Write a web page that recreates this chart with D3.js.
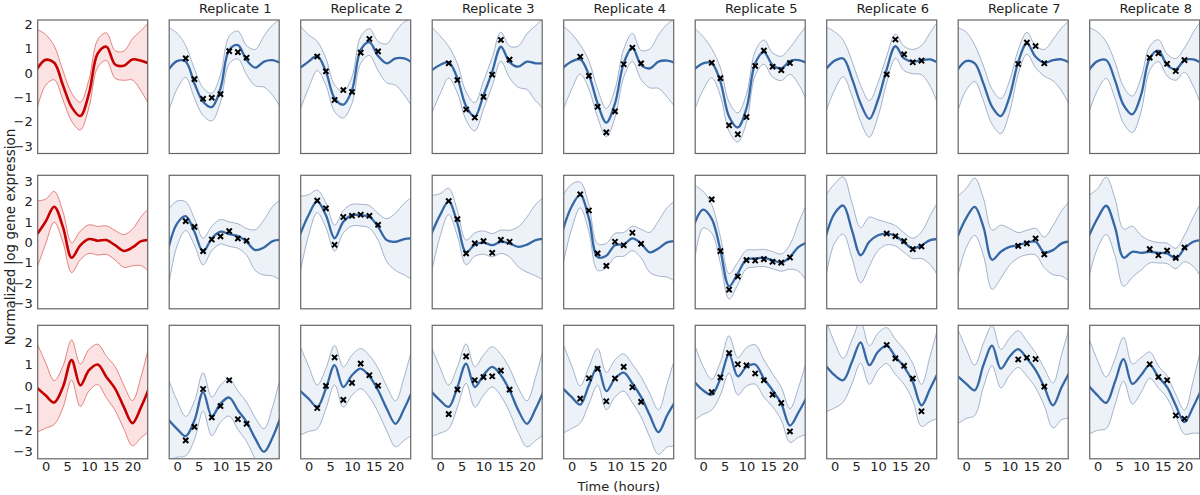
<!DOCTYPE html>
<html><head><meta charset="utf-8">
<script src="https://cdn.jsdelivr.net/npm/d3@7"></script>
<style>body{margin:0;background:#fff}svg{display:block}text{font-family:"DejaVu Sans",sans-serif}</style>
</head><body>
<svg id="c" width="1200" height="495"></svg>
<script>
// grid times for curves
const gridT = [-2,0,2,4,6,8,10,12,14,16,18,20,22,24];
const panelTitles = ["", "Replicate 1","Replicate 2","Replicate 3","Replicate 4","Replicate 5","Replicate 6","Replicate 7","Replicate 8"];
const xTicks = [0,5,10,15,20];
const yTicksRow = [[2,1,0,-1,-2,-3],[3,2,1,0,-1,-2,-3],[2,1,0,-1,-2,-3]];
const yDomains = [[-3.31,2.18],[-3.25,3.28],[-3.32,2.78]];
const obsTimes = [
  [2,4,6,8,10,12,14,16],[2,4,6,8,10,12,14,16],[2,4,6,8,10,12,14,16],[2,4,6,8,10,12,14,16],
  [2,4,6,8,10,12,14,16,18,20],[12,14,16,18,20],[12,14,16,18],[12,14,16,18,20]];

// Row 0: index 0 = gene-level (red), 1..8 = replicates
const row0Mean = [
  [0.15,0.54,0.42,-0.5,-1.4,-1.77,-0.84,0.8,1.08,0.35,0.3,0.56,0.5,0.38],
  [0.13,0.49,0.47,-0.43,-1.18,-1.4,-0.63,0.95,1.15,0.53,0.22,0.47,0.53,0.38],
  [0.2,0.47,0.70,0.05,-1.04,-1.3,-0.7,0.95,1.27,0.70,0.40,0.6,0.6,0.4],
  [0.1,0.33,0.44,-0.22,-1.36,-1.8,-0.91,0.05,1.08,0.45,0.26,0.47,0.4,0.4],
  [0.2,0.47,0.56,-0.08,-1.25,-2.04,-1.25,0.40,1.05,0.33,0.19,0.47,0.51,0.4],
  [0.15,0.40,0.40,-0.36,-1.8,-2.24,-1.45,0.40,0.86,0.33,0.19,0.49,0.53,0.4],
  [0.15,0.5,0.6,-0.22,-1.25,-1.89,-1.1,0.15,1.1,0.6,0.47,0.53,0.56,0.4],
  [0.12,0.49,0.40,-0.43,-1.39,-1.77,-0.98,0.45,1.22,0.67,0.42,0.53,0.56,0.4],
  [0.12,0.49,0.53,-0.29,-1.32,-1.7,-0.91,0.60,0.92,0.33,0.15,0.53,0.56,0.4]];
const row0Band = [
  [1.65,1.05,0.7,0.6,0.58,0.57,0.57,0.57,0.57,0.57,0.6,0.85,1.25,1.75],
  [1.75,1.15,0.65,0.6,0.57,0.57,0.57,0.57,0.57,0.6,0.75,1.05,1.45,1.85],
  [1.75,1.1,0.6,0.55,0.55,0.55,0.55,0.55,0.55,0.6,0.8,1.1,1.5,1.85],
  [1.8,1.2,0.65,0.6,0.58,0.58,0.58,0.58,0.6,0.65,0.85,1.15,1.55,1.9],
  [1.75,1.15,0.6,0.58,0.58,0.58,0.58,0.58,0.58,0.6,0.8,1.1,1.5,1.85],
  [1.7,1.1,0.6,0.58,0.6,0.6,0.58,0.5,0.5,0.5,0.5,0.55,1.0,1.6],
  [1.75,1.2,0.75,0.72,0.75,0.75,0.7,0.55,0.5,0.5,0.5,0.6,1.1,1.8],
  [1.75,1.2,0.75,0.72,0.72,0.72,0.65,0.5,0.45,0.45,0.55,0.85,1.3,1.8],
  [1.75,1.2,0.75,0.75,0.75,0.75,0.7,0.5,0.45,0.45,0.45,0.5,1.1,1.8]];
const row0Obs = [
  [0.60,-0.25,-1.06,-1.02,-0.87,0.90,0.86,0.63],
  [0.68,0.07,-1.11,-0.70,-0.78,0.84,1.40,0.89],
  [0.40,-0.29,-1.50,-1.83,-0.98,-0.07,1.36,0.55],
  [0.67,-0.12,-1.39,-2.44,-1.58,0.36,1.04,0.40],
  [0.42,-0.21,-2.15,-2.52,-1.81,0.29,0.92,0.26,0.12,0.41],
  [-0.06,1.38,0.77,0.44,0.51],
  [0.37,1.25,1.11,0.40],
  [0.63,0.81,0.38,0.08,0.53]];

// Row 1
const row1Mean = [
  [0.38,1.01,1.74,0.76,-0.75,-0.15,0.16,0.08,0.11,-0.14,-0.42,-0.25,0.06,0.12],
  [-0.3,0.92,1.28,0.52,-0.45,0.19,0.52,0.40,0.31,0.03,-0.38,-0.25,0.06,0.12],
  [0.35,1.33,2.0,1.33,0.2,1.01,1.33,1.33,1.25,0.76,0.11,0.03,0.16,0.2],
  [0.4,1.33,2.0,0.93,-0.49,-0.11,-0.01,-0.14,0.03,-0.06,-0.22,-0.11,0.11,0.17],
  [0.6,1.74,2.32,1.17,-0.72,-0.65,-0.14,-0.1,0.19,-0.06,-0.49,-0.3,0.0,0.07],
  [0.9,1.6,1.15,-0.38,-2.15,-1.52,-0.84,-0.79,-0.76,-0.87,-0.99,-0.71,-0.22,0.0],
  [0.3,1.41,1.8,0.6,-0.63,0.03,0.35,0.43,0.32,-0.01,-0.3,-0.14,0.11,0.17],
  [0.25,1.17,1.74,0.76,-0.85,-0.46,-0.22,-0.14,-0.01,0.03,-0.49,-0.38,-0.05,0.05],
  [0.3,1.17,1.79,0.76,-0.75,-0.46,-0.51,-0.46,-0.51,-0.54,-0.79,-0.3,0.03,0.12]];
const row1Band = [
  [1.65,1.1,0.75,0.75,0.73,0.7,0.7,0.7,0.7,0.72,0.8,0.9,1.2,1.6],
  [1.9,1.1,0.7,0.65,0.65,0.6,0.6,0.6,0.6,0.65,1.0,1.35,1.7,2.0],
  [1.9,1.0,0.55,0.6,0.63,0.55,0.53,0.53,0.55,0.65,1.05,1.4,1.75,2.05],
  [1.9,1.05,0.64,0.62,0.6,0.57,0.57,0.57,0.57,0.65,0.98,1.35,1.75,2.05],
  [1.7,1.1,0.63,0.65,0.65,0.6,0.58,0.58,0.6,0.7,0.98,1.35,1.7,2.0],
  [1.9,0.9,0.7,0.65,0.62,0.55,0.45,0.42,0.42,0.42,0.42,0.6,1.2,1.95],
  [2.0,1.45,1.4,1.35,1.35,1.2,0.75,0.55,0.5,0.48,0.5,0.65,1.2,1.9],
  [2.0,1.45,1.4,1.4,1.45,1.3,0.9,0.62,0.6,0.65,0.75,1.2,1.6,2.0],
  [2.0,1.45,1.4,1.4,1.4,1.25,0.85,0.55,0.5,0.5,0.5,0.65,1.2,1.9]];
const row1Obs = [
  [1.04,0.76,-0.43,0.14,0.29,0.55,0.19,0.08],
  [2.04,1.66,-0.12,1.24,1.30,1.35,1.30,0.86],
  [2.02,1.14,-0.54,-0.05,0.06,-0.51,0.12,0.03],
  [2.35,1.56,-0.54,-1.15,0.03,-0.14,0.47,-0.07],
  [2.10,-0.43,-2.31,-1.67,-0.87,-0.89,-0.82,-0.95,-0.99,-0.74],
  [0.43,0.30,0.06,-0.33,-0.20],
  [-0.17,-0.05,0.19,-0.59],
  [-0.33,-0.63,-0.40,-0.76,-0.25]];

// Row 2
const row2Mean = [
  [-0.07,-0.42,-0.75,-0.04,1.19,0.04,0.73,0.99,0.42,-0.11,-0.95,-1.69,-0.95,0.0],
  [-1.52,-1.95,-2.28,-1.57,-0.27,-1.38,-0.8,-0.52,-1.1,-1.63,-2.4,-3.0,-2.33,-1.3],
  [-0.2,-0.57,-0.95,-0.11,0.96,-0.04,0.5,0.8,0.45,-0.19,-1.03,-1.72,-1.03,-0.15],
  [-0.25,-0.65,-0.95,-0.04,1.03,-0.04,0.5,0.88,0.5,-0.19,-1.1,-1.72,-1.03,-0.15],
  [-0.1,-0.49,-0.84,0.04,0.88,-0.23,0.35,0.62,0.12,-0.49,-1.33,-2.1,-1.33,-0.65],
  [0.2,-0.19,-0.39,0.35,1.45,0.45,0.88,0.99,0.35,-0.19,-0.8,-1.8,-1.18,-0.45],
  [0.93,0.5,0.27,1.1,2.0,0.96,1.57,1.85,1.34,0.88,0.19,-0.88,-0.11,0.7],
  [0.47,0.12,-0.19,0.96,1.85,0.8,1.34,1.69,1.26,0.73,-0.04,-0.88,-0.04,0.7],
  [0.0,-0.42,-0.76,0.19,1.23,0.1,0.5,0.96,0.42,-0.04,-0.88,-1.64,-0.95,-0.1]];
const row2Band = [
  [2.05,1.5,1.0,0.95,0.92,0.97,0.95,0.92,0.95,1.0,1.0,1.03,1.4,2.05],
  [1.85,1.3,0.9,0.88,0.88,0.88,0.85,0.85,0.88,0.9,0.95,1.05,1.4,1.9],
  [2.05,1.5,1.0,0.92,0.9,0.92,0.92,0.92,0.95,1.0,1.02,1.05,1.45,2.05],
  [2.05,1.5,1.0,0.92,0.9,0.92,0.92,0.92,0.95,1.0,1.02,1.05,1.45,2.05],
  [2.05,1.45,0.85,0.85,0.84,0.85,0.85,0.85,0.88,0.92,1.0,1.02,1.45,2.1],
  [1.75,1.1,0.7,0.75,0.85,0.85,0.88,0.9,0.85,0.75,0.75,0.77,1.15,1.75],
  [2.1,1.5,1.0,1.0,0.95,0.88,0.85,0.82,0.8,0.8,0.85,0.96,1.5,2.15],
  [2.2,1.6,1.15,1.0,0.92,0.88,0.85,0.84,0.8,0.8,0.85,1.03,1.5,2.15],
  [2.2,1.6,1.18,1.05,1.0,0.92,0.8,0.6,0.5,0.5,0.5,0.55,1.2,2.05]];
const row2Obs = [
  [-2.48,-1.86,-0.13,-1.43,-0.91,0.27,-1.51,-1.72],
  [-1.0,0.01,1.31,-0.63,0.15,1.03,0.5,0.02],
  [-1.28,-0.16,1.36,0.27,0.41,0.45,0.71,-0.16],
  [-0.57,0.36,0.79,-0.69,0.35,0.88,-0.05,-0.72],
  [-0.27,0.40,1.51,1.0,0.95,0.58,0.27,-0.39,-0.77,-2.07],
  [1.88,1.27,0.93,0.35,-1.15],
  [1.22,1.30,1.24,-0.02],
  [1.0,0.42,0.27,-1.34,-1.49]];

const means = [row0Mean,row1Mean,row2Mean];
const bands = [row0Band,row1Band,row2Band];
const obs = [row0Obs,row1Obs,row2Obs];

const svg = d3.select("#c");
const PW = 110, PH = 133.5;
const colX = c => 37.7 + c*131.5;
const rowY = [20,175.3,325.3];
const x = d3.scaleLinear().domain([-1.8,23.5]).range([0,PW]);

for (let r=0;r<3;r++){
  const y = d3.scaleLinear().domain(yDomains[r]).range([PH,0]);
  for (let c=0;c<9;c++){
    const g = svg.append("g").attr("transform",`translate(${colX(c)},${rowY[r]})`);
    const cid = `clip${r}_${c}`;
    g.append("clipPath").attr("id",cid).append("rect").attr("width",PW).attr("height",PH);
    const red = c===0;
    const m = means[r][c], h = bands[r][c];
    const pts = gridT.map((t,i)=>({t, m:m[i], h:h[i]}));
    const curve = d3.curveCatmullRom.alpha(0.5);
    const pg = g.append("g").attr("clip-path",`url(#${cid})`);
    pg.append("path").datum(pts)
      .attr("d", d3.area().x(d=>x(d.t)).y0(d=>y(d.m-d.h)).y1(d=>y(d.m+d.h)).curve(curve))
      .attr("fill", red ? "#fce3e3" : "#edf2f9");
    [1,-1].forEach(s=>{
      pg.append("path").datum(pts)
        .attr("d", d3.line().x(d=>x(d.t)).y(d=>y(d.m+s*d.h)).curve(curve))
        .attr("fill","none").attr("stroke", red ? "#d9534f" : "#7f95b5").attr("stroke-width",0.7);
    });
    pg.append("path").datum(pts)
      .attr("d", d3.line().x(d=>x(d.t)).y(d=>y(d.m)).curve(curve))
      .attr("fill","none").attr("stroke", red ? "#c40000" : "#3567a5").attr("stroke-width", red?2.6:2.3);
    if (!red){
      const ov = obs[r][c-1], ot = obsTimes[c-1];
      const s = 2.6;
      ov.forEach((v,i)=>{
        const px = x(ot[i]), py = y(v);
        pg.append("path")
          .attr("d",`M${px-s},${py-s}L${px+s},${py+s}M${px-s},${py+s}L${px+s},${py-s}`)
          .attr("stroke","#000").attr("stroke-width",2);
      });
    }
    g.append("rect").attr("width",PW).attr("height",PH)
      .attr("fill","none").attr("stroke","#666").attr("stroke-width",1.2);
    if (c===0){
      const ax = g.append("g").call(d3.axisLeft(y).tickValues(yTicksRow[r]).tickSize(0).tickPadding(5).tickFormat(d3.format("d")));
      ax.select(".domain").remove();
      ax.selectAll("text").attr("font-size",13).attr("fill","#222").attr("font-family","DejaVu Sans");
    }
    if (r===2){
      const ax = g.append("g").attr("transform",`translate(0,${PH})`)
        .call(d3.axisBottom(x).tickValues(xTicks).tickSize(0).tickPadding(3));
      ax.select(".domain").remove();
      ax.selectAll("text").attr("font-size",13).attr("fill","#222").attr("font-family","DejaVu Sans");
    }
    if (r===0 && c>0){
      svg.append("text").attr("x",colX(c)+PW/2+11).attr("y",12.5)
        .attr("text-anchor","middle").attr("font-size",13).attr("fill","#222").text(panelTitles[c]);
    }
  }
}
svg.append("text").attr("x",colX(4)+PW/2).attr("y",491).attr("text-anchor","middle")
  .attr("font-size",13).attr("fill","#222").text("Time (hours)");
svg.append("text").attr("transform","translate(14.5,237) rotate(-90)").attr("text-anchor","middle")
  .attr("font-size",13.5).attr("fill","#222").text("Normalized log gene expression");
</script>
</body></html>
